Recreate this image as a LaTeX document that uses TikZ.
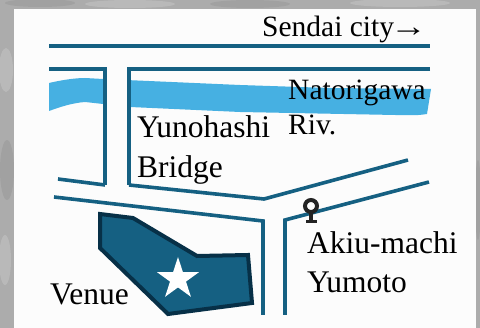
\documentclass[tikz,border=0pt]{standalone}
\usepackage{fontspec}
\setmainfont{Liberation Serif}
\usetikzlibrary{shapes.geometric}
\definecolor{roadc}{RGB}{21,96,130}
\definecolor{edgec}{RGB}{7,48,71}
\definecolor{riverc}{RGB}{70,176,226}
\definecolor{bgc}{RGB}{172,172,172}
\definecolor{panelc}{RGB}{252,252,252}
\definecolor{markc}{RGB}{35,35,35}
\tikzset{
  road/.style={draw=roadc,line width=3.6pt,line cap=butt,line join=miter},
  roadt/.style={draw=roadc,line width=4pt,line cap=butt,line join=miter},
  lbl/.style={font=\fontsize{31.5}{31.5}\selectfont,text=black,anchor=base west,inner sep=0pt},
  lbls/.style={font=\fontsize{29.5}{29.5}\selectfont,text=black,anchor=base west,inner sep=0pt},
  blotl/.style={fill=white,opacity=.16},
  blotd/.style={fill=black,opacity=.06}
}
\begin{document}
\begin{tikzpicture}[x=1pt,y=-1pt]
\useasboundingbox (0,0) rectangle (480,328);
\fill[bgc] (0,0) rectangle (480,328);
% mottled backdrop
\fill[blotl] (130,4) ellipse (45pt and 4pt);
\fill[blotl] (400,3) ellipse (50pt and 4pt);
\fill[blotd] (250,4) ellipse (40pt and 4pt);
\fill[blotd] (40,3) ellipse (35pt and 4pt);
\fill[blotl] (6,70) ellipse (7pt and 22pt);
\fill[blotd] (7,170) ellipse (7pt and 30pt);
\fill[blotl] (5,260) ellipse (6pt and 25pt);
\fill[blotd] (478,200) ellipse (3pt and 40pt);
\fill[panelc] (14,9) rectangle (476,328);
% river
\fill[riverc] (49,83) .. controls (62,80) and (75,78) .. (85,78) -- (103,79) -- (240,85) -- (330,88) -- (431,89) -- (427,114)
  .. controls (415,116) and (405,115) .. (395,115) -- (240,112) -- (130,107) -- (103,104) -- (85,102) .. controls (72,103) and (60,107) .. (49,111) -- cycle;
\fill[panelc] (106.5,60) rectangle (127,190);
% roads
\draw[roadt] (49,46) -- (430,46);
\draw[roadt] (49,69) -- (105,69) -- (105,185);
\draw[roadt] (430,69) -- (129,69) -- (129,185);
\draw[road] (58,179) -- (105,185);
\draw[road] (129,185) -- (264,199) -- (408,160);
\draw[road] (54,197) -- (263,221) -- (263,315);
\draw[road] (285,315) -- (285,220) -- (429,182);
% venue
\draw[fill=roadc,draw=edgec,line width=4pt,line join=miter] (100,214) -- (133,218) -- (197,256) -- (248,255) -- (252,303) -- (168,314) -- (100,248) -- cycle;
\node[star,star points=5,star point ratio=2.618,fill=white,inner sep=0pt,minimum size=44pt] (st) at (178,279) {};
% marker
\draw[markc,line width=4pt] (311,206) circle (6pt);
\draw[markc,line width=4.4pt] (311,213) -- (311,222);
\draw[markc,line width=3.4pt] (306,221.5) -- (317,221.5);
% labels
\node[lbls] (a) at (262,36.5) {Sendai city\kern-4pt\scalebox{1.25}[1]{→}};
\node[lbls] (b) at (288,99.5) {Natorigawa};
\node[lbls] (c) at (288,134.5) {Riv.};
\node[lbl] (d) at (137,137.5) {Yunohashi};
\node[lbl] (e) at (137,177.5) {Bridge};
\node[lbl] (f) at (50,304.5) {Venue};
\node[lbl] (g) at (307,253.5) {Akiu-machi};
\node[lbl] (h) at (307,292.5) {Yumoto};
\end{tikzpicture}
\end{document}
